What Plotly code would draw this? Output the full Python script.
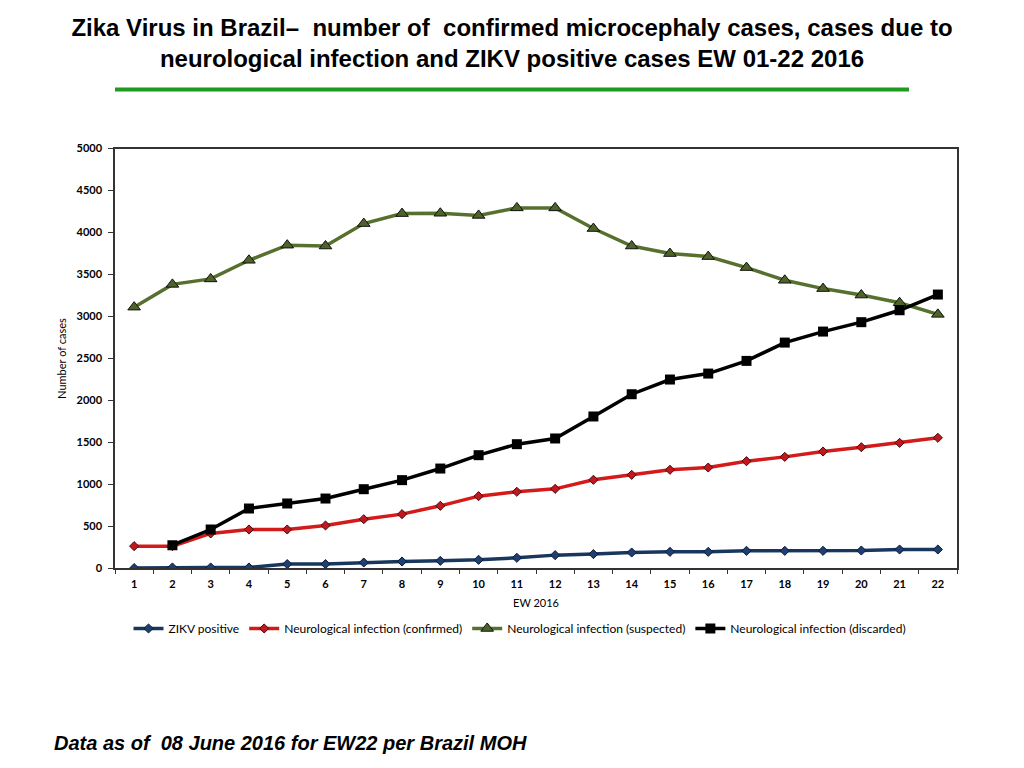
import plotly.graph_objects as go

# ----------------------------------------------------------------------------------------------------------------------
#  DATA
# ----------------------------------------------------------------------------------------------------------------------
weeks = [str(w) for w in range(1, 23)]

zikv_positive = [5, 12, 12, 12, 52, 52, 71, 83, 91, 103, 127, 159, 171, 190, 198, 198, 210, 210, 210, 214, 226, 226]
neuro_confirmed = [266, 266, 417, 464, 464, 512, 587, 647, 746, 861, 913, 948, 1056, 1115, 1175, 1202, 1278, 1329,
                   1393, 1444, 1496, 1556]
neuro_suspected = [3112, 3383, 3448, 3670, 3850, 3840, 4107, 4226, 4230, 4204, 4294, 4294, 4048, 3840, 3750, 3714,
                   3583, 3432, 3333, 3256, 3164, 3026]
neuro_discarded = [None, 278, 464, 714, 774, 833, 944, 1052, 1190, 1349, 1480, 1548, 1810, 2075, 2250, 2321, 2472,
                   2690, 2821, 2933, 3075, 3262]

y_ticks = list(range(0, 5001, 500))

title_text = ("Zika Virus in Brazil\u2013  number of  confirmed microcephaly cases, cases due to<br>"
              "neurological infection and ZIKV positive cases EW 01-22 2016")
footer_text = "Data as of  08 June 2016 for EW22 per Brazil MOH"

# page body has an 8px margin; the snapshot also squeezes the page a little vertically
W, H, OFF = 1008, 752, 8
V_SCALE, V_SHIFT = 0.983, 6.5


def px(x):
    return (x - OFF) / W


def py(y):
    page_y = (y - V_SHIFT) / V_SCALE
    return 1 - (page_y - OFF) / H


# ----------------------------------------------------------------------------------------------------------------------
#  PLOT
# ----------------------------------------------------------------------------------------------------------------------
fig = go.Figure()

fig.add_trace(go.Scatter(x=weeks, y=zikv_positive, name='ZIKV positive', mode='lines+markers',
                         line=dict(color='#17375E', width=3.5),
                         marker=dict(symbol='diamond', size=7, color='#1F3F73', line=dict(color='#0a1a33', width=1))))
fig.add_trace(go.Scatter(x=weeks, y=neuro_confirmed, name='Neurological infection (confirmed)', mode='lines+markers',
                         line=dict(color='#D41B1B', width=3.5),
                         marker=dict(symbol='diamond', size=7, color='#C0181E', line=dict(color='#4a0a0a', width=1))))
fig.add_trace(go.Scatter(x=weeks, y=neuro_suspected, name='Neurological infection (suspected)', mode='lines+markers',
                         line=dict(color='#57702E', width=3.5),
                         marker=dict(symbol='triangle-up', size=11, color='#4F6228', line=dict(color='#111111', width=1))))
fig.add_trace(go.Scatter(x=weeks, y=neuro_discarded, name='Neurological infection (discarded)', mode='lines+markers',
                         line=dict(color='#000000', width=3.5),
                         marker=dict(symbol='square', size=10, color='#000000')))

tick_font = dict(family='Lato, Open Sans, sans-serif', size=11, color='black', weight='bold')
axis_title_font = dict(family='Lato, sans-serif', size=11, color='black')

fig.update_xaxes(type='category', range=[-0.5, 21.5], tickson='boundaries', ticks='outside', ticklen=4,
                 tickcolor='#333333', showline=True, linecolor='#333333', linewidth=1.5, mirror=True,
                 showgrid=False, tickfont=tick_font, ticklabelstandoff=5,
                 title=dict(text='EW 2016', font=axis_title_font, standoff=10),
                 domain=[px(115), px(957)])
fig.update_yaxes(range=[0, 5000], tickvals=y_ticks, ticks='outside', ticklen=5, tickcolor='#333333',
                 showline=True, linecolor='#333333', linewidth=1.5, mirror=True, showgrid=False, zeroline=False,
                 tickfont=tick_font, ticklabelstandoff=4,
                 title=dict(text='Number of cases', font=axis_title_font, standoff=8),
                 domain=[py(568), py(148)])

fig.update_layout(
    width=W, height=H,
    margin=dict(l=0, r=0, t=0, b=0),
    paper_bgcolor='white', plot_bgcolor='white',
    showlegend=True,
    legend=dict(orientation='h', x=px(520), xanchor='center', y=py(628), yanchor='middle',
                font=dict(family='Lato, sans-serif', size=12, color='black'), itemwidth=30),
    title=dict(text='<b>' + title_text + '</b>', x=px(512), xanchor='center', y=py(41.5), yanchor='middle',
               font=dict(family='Liberation Sans, Arial, sans-serif', size=24, color='black')),
    shapes=[dict(type='line', xref='paper', yref='paper', x0=px(115), x1=px(909),
                 y0=py(89), y1=py(89), line=dict(color='#1E9A1E', width=4))],
    annotations=[dict(text='<b><i>' + footer_text + '</i></b>', xref='paper', yref='paper',
                      x=px(52), y=py(743), xanchor='left', yanchor='middle', showarrow=False,
                      font=dict(family='Liberation Sans, Arial, sans-serif', size=20, color='black'))],
)

fig.write_html("out.html")
